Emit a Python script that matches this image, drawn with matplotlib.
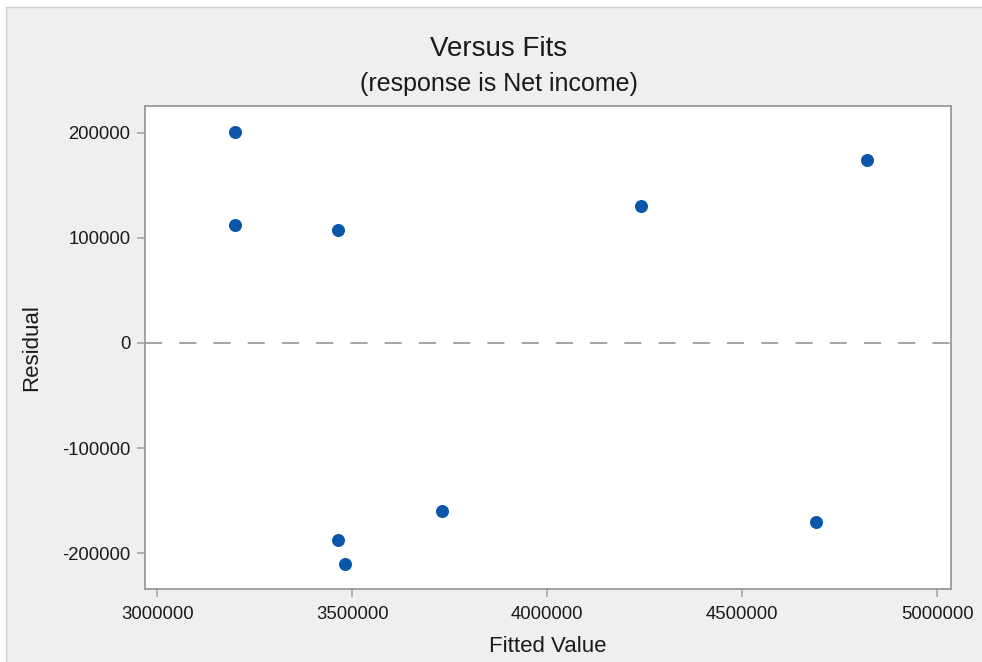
import matplotlib.pyplot as plt
from matplotlib.patches import Rectangle

plt.rcParams['font.family'] = ['Liberation Sans', 'DejaVu Sans']

# fitted values and residuals
fitted = [3199000, 3199000, 3463000, 4240000, 4820000, 3730000, 3464000, 3481000, 4688000]
resid = [200500, 112000, 107500, 130500, 174000, -159500, -188000, -210000, -170000]

xticks = [3000000, 3500000, 4000000, 4500000, 5000000]
yticks = [-200000, -100000, 0, 100000, 200000]

W, H = 982, 662
fig = plt.figure(figsize=(W / 100, H / 100), dpi=100)
fig.patch.set_facecolor('white')
bg = Rectangle((6 / W, -0.01), 1, 1.01 - 7 / H, transform=fig.transFigure,
               facecolor='#efefef', edgecolor='#d0d0d0', linewidth=1, zorder=-10)
fig.patches.append(bg)

ax = fig.add_axes([145 / W, 1 - 589 / H, (951 - 145) / W, (589 - 106) / H])
ax.set_facecolor('white')

ax.axhline(0, color='#a6a6a6', linestyle=(0, (8.5, 8.5)), linewidth=1.45, zorder=1)
ax.scatter(fitted, resid, s=88, color='#0a56a8', zorder=3, linewidths=0)

ax.set_xlim(2968500, 5035000)
ax.set_ylim(-234200, 225600)
ax.set_xticks(xticks)
ax.set_yticks(yticks)
ax.set_xticklabels([str(v) for v in xticks])
ax.set_yticklabels([str(v) for v in yticks])

for s in ax.spines.values():
    s.set_color('#9a9a9a')
    s.set_linewidth(1.3)
ax.tick_params(direction='out', length=6, width=1.1, color='#a0a0a0',
               labelsize=13.3, labelcolor='#1a1a1a', pad=4.5)
ax.tick_params(axis='x', pad=6)

ax.set_xlabel('Fitted Value', fontsize=16, color='#1a1a1a', va='center')
ax.xaxis.set_label_coords(0.5, (589 - 647) / 483)
ax.set_ylabel('Residual', fontsize=16, color='#1a1a1a', va='center')
ax.yaxis.set_label_coords((32 - 145) / 806, 0.5)

fig.text(498.5 / W, 1 - 56 / H, 'Versus Fits', ha='center', va='baseline',
         fontsize=20, color='#1a1a1a')
fig.text(499 / W, 1 - 91.5 / H, '(response is Net income)', ha='center', va='baseline',
         fontsize=18, color='#1a1a1a')

fig.savefig('out.png', dpi=100, facecolor=fig.get_facecolor())
